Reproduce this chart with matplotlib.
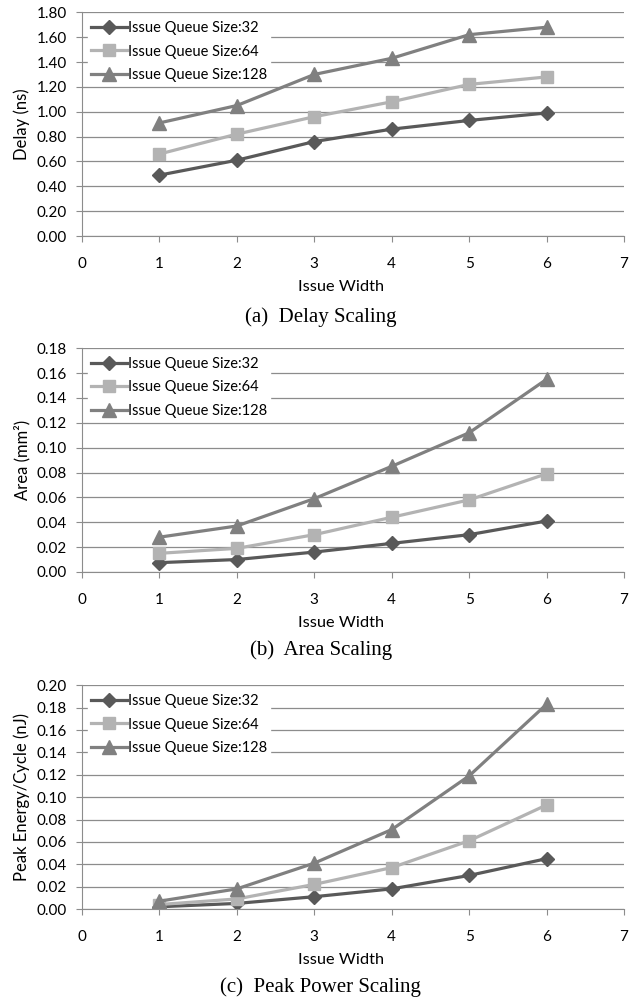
import matplotlib
matplotlib.use('Agg')
import matplotlib.pyplot as plt
from matplotlib.ticker import FormatStrFormatter

# Dados
largura = [1, 2, 3, 4, 5, 6]
rotulos = ['Issue Queue Size:32', 'Issue Queue Size:64', 'Issue Queue Size:128']

atraso_32 = [0.49, 0.61, 0.76, 0.86, 0.93, 0.99]
atraso_64 = [0.66, 0.82, 0.96, 1.08, 1.22, 1.28]
atraso_128 = [0.91, 1.05, 1.30, 1.43, 1.62, 1.68]

area_32 = [0.0075, 0.010, 0.016, 0.023, 0.030, 0.041]
area_64 = [0.015, 0.019, 0.030, 0.044, 0.058, 0.079]
area_128 = [0.028, 0.037, 0.059, 0.085, 0.112, 0.155]

energia_32 = [0.002, 0.005, 0.011, 0.018, 0.030, 0.045]
energia_64 = [0.004, 0.009, 0.022, 0.037, 0.061, 0.093]
energia_128 = [0.007, 0.018, 0.041, 0.071, 0.119, 0.183]

cores = ['#595959', '#b3b3b3', '#808080']
marcadores = ['D', 's', '^']
tamanhos = [7.5, 8.6, 9.5]

plt.rcParams['font.family'] = ['Lato', 'DejaVu Sans']

fig = plt.figure(figsize=(6.39, 10.01), dpi=100)

# (series, rótulo y, máximo y, passo, legenda, base do eixo, y da legenda)
paineis = [
    ([atraso_32, atraso_64, atraso_128], 'Delay (ns)', 1.80, 0.20, '(a)  Delay Scaling', 0.7642, 0.6833),
    ([area_32, area_64, area_128], 'Area (mm²)', 0.18, 0.02, '(b)  Area Scaling', 0.4286, 0.3506),
    ([energia_32, energia_64, energia_128], 'Peak Energy/Cycle (nJ)', 0.20, 0.02, '(c)  Peak Power Scaling', 0.0919, 0.0140),
]

for series, ylabel, ymax, passo, legenda, base, ylegenda in paineis:
    ax = fig.add_axes([0.1283, base, 0.8482, 0.2235])
    for valores, rot, cor, m, ms in zip(series, rotulos, cores, marcadores, tamanhos):
        ax.plot(largura, valores, color=cor, marker=m, markersize=ms, linewidth=2.3, label=rot)
    ax.set_xlim(0, 7)
    ax.set_ylim(0, ymax)
    ax.set_xticks(range(0, 8))
    n = int(round(ymax / passo))
    ax.set_yticks([i * passo for i in range(n + 1)])
    ax.yaxis.set_major_formatter(FormatStrFormatter('%.2f'))
    ax.grid(axis='y', color='#8c8c8c', linewidth=0.9)
    ax.set_axisbelow(True)
    for lado in ['top', 'right']:
        ax.spines[lado].set_visible(False)
    for lado in ['left', 'bottom']:
        ax.spines[lado].set_color('#8c8c8c')
    ax.tick_params(colors='#8c8c8c', labelcolor='black', labelsize=11, length=4)
    ax.tick_params(axis='x', pad=11)
    ax.tick_params(axis='y', pad=7)
    ax.set_xlabel('Issue Width', fontsize=11.8)
    ax.xaxis.set_label_coords(0.478, -0.195)
    ax.set_ylabel(ylabel, fontsize=12)
    ax.yaxis.set_label_coords(-0.096, 0.5)
    leg = ax.legend(loc='upper left', fontsize=10.5, frameon=True, handlelength=2.5,
                    handletextpad=0.05, borderpad=0.2, labelspacing=0.65, borderaxespad=0.4)
    leg.get_frame().set_facecolor('white')
    leg.get_frame().set_edgecolor('white')
    leg.get_frame().set_alpha(1)
    leg.get_frame().set_boxstyle('square', pad=0)
    fig.text(0.502, ylegenda, legenda, ha='center', va='center', fontsize=15,
             family='Liberation Serif')

fig.savefig('out.png', dpi=100)
